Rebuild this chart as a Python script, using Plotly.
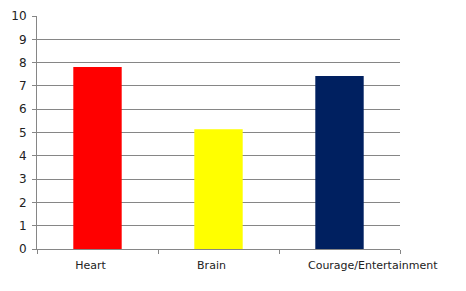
import plotly.graph_objects as go

categories = ["Heart", "Brain", "Courage/Entertainment"]
values = [7.81, 5.14, 7.43]
colors = ["#ff0000", "#ffff00", "#002060"]
y_ticks = list(range(0, 11))

# the last category label sits off-centre (to the right) in the reference
tick_text = list(categories)
tick_text[-1] = "\u00a0" * 23 + tick_text[-1]

fig = go.Figure(go.Bar(
    x=categories, y=values,
    marker=dict(color=colors, line=dict(width=0)),
    width=0.4,
))

fig.update_layout(
    width=466, height=291,
    margin=dict(l=37, r=66, t=16, b=42, autoexpand=False),
    paper_bgcolor="white", plot_bgcolor="white",
    font=dict(family="DejaVu Sans", size=11, color="#222222"),
    showlegend=False,
    xaxis=dict(
        showgrid=False, showline=True, linecolor="#868686", linewidth=1,
        ticks="outside", tickson="boundaries", ticklen=4, tickcolor="#868686",
        tickvals=categories, ticktext=tick_text,
        tickfont=dict(size=11), tickangle=0, automargin=False,
        ticklabelshift=-7, ticklabelstandoff=6,
    ),
    yaxis=dict(
        range=[0, 10], tickvals=y_ticks, showgrid=True, gridcolor="#868686", gridwidth=1,
        showline=True, linecolor="#868686", linewidth=1,
        ticks="outside", ticklen=4, tickcolor="#868686", zeroline=False,
        tickfont=dict(size=12), automargin=False, ticklabelstandoff=3,
    ),
)

fig.write_html("out.html")
